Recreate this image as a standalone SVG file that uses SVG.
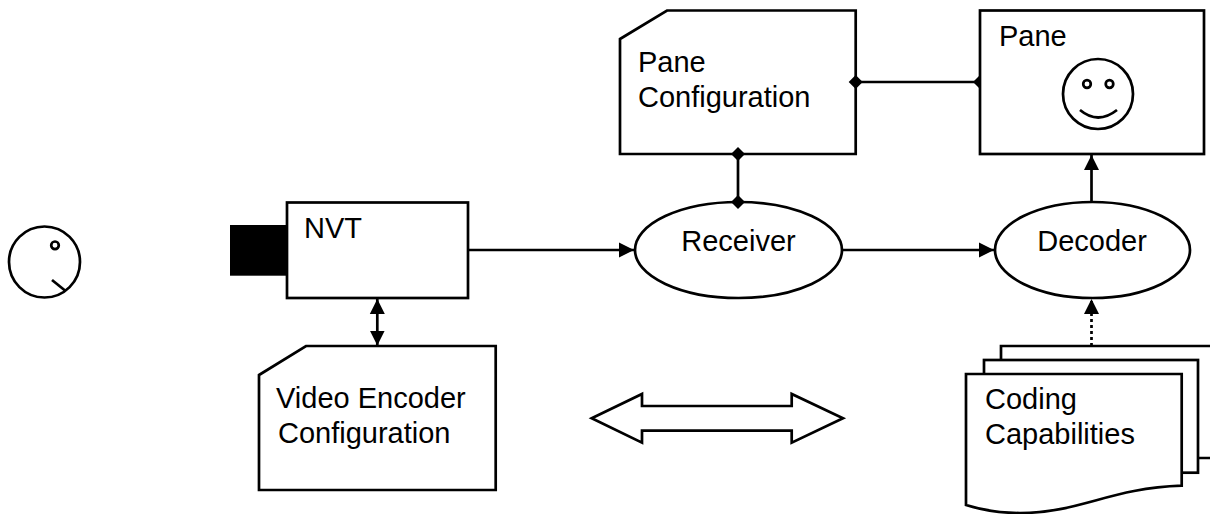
<svg xmlns="http://www.w3.org/2000/svg" width="1210" height="514" viewBox="0 0 1210 514">
<style>
.s{fill:#fff;stroke:#000;stroke-width:2.7}
.n{fill:none;stroke:#000;stroke-width:2.7}
.t{font-family:"Liberation Sans",Arial,sans-serif;font-size:29px;fill:#000}
.m{text-anchor:middle}
.l{fill:none;stroke:#000;stroke-width:2.7}
.d{stroke-dasharray:3 3}
</style>
<defs>
<marker id="arrow" markerUnits="userSpaceOnUse" markerWidth="16" markerHeight="16" refX="15" refY="8" orient="auto-start-reverse"><path d="M0 0.5L15 8L0 15.5Z" fill="#000"/></marker>
<marker id="dia" markerUnits="userSpaceOnUse" markerWidth="16" markerHeight="16" refX="8" refY="8" orient="auto"><path d="M1 8L8 1L15 8L8 15Z" fill="#000"/></marker>
</defs>
<rect width="1210" height="514" fill="#fff"/>
<g id="connectors">
<path class="l" d="M468 250H634" marker-end="url(#arrow)"/>
<path class="l" d="M842 250H994" marker-end="url(#arrow)"/>
<path class="l" d="M1091.5 202V155" marker-end="url(#arrow)"/>
<path class="l d" d="M1091.5 346V299" marker-end="url(#arrow)"/>
<path class="l" d="M377.3 299V345.5" marker-start="url(#arrow)" marker-end="url(#arrow)"/>
<path class="l" d="M738 154V202" marker-start="url(#dia)" marker-end="url(#dia)"/>
<path class="l" d="M855.7 82H980" marker-start="url(#dia)" marker-end="url(#dia)"/>
</g>
<g id="observer">
<circle class="n" cx="44.5" cy="262" r="35.5"/>
<circle class="n" cx="55" cy="245.3" r="3.8"/>
<path class="n" d="M52 280L65 290.5"/>
</g>
<g id="nvt">
<rect x="230" y="225" width="58" height="50.7" fill="#000"/>
<rect class="n" x="287" y="202.5" width="181" height="95.5"/>
<text class="t" x="304" y="238">NVT</text>
</g>
<g id="video-encoder-configuration">
<path class="s" d="M259 375L306 346H495.7V490H259Z"/>
<text class="t" x="276" y="408">Video Encoder</text>
<text class="t" x="278" y="443">Configuration</text>
</g>
<g id="pane-configuration">
<path class="n" d="M620 39L667 10.5H855.7V154H620Z"/>
<text class="t" x="638" y="72">Pane</text>
<text class="t" x="638" y="107">Configuration</text>
</g>
<g id="pane">
<rect class="s" x="980" y="10.5" width="224" height="143.5"/>
<text class="t" x="999" y="46">Pane</text>
<circle class="n" cx="1098" cy="94" r="35"/>
<circle class="n" cx="1087" cy="84" r="3.8"/>
<circle class="n" cx="1109.5" cy="84" r="3.8"/>
<path class="n" d="M1080 110Q1098 125 1117 110"/>
</g>
<g id="receiver">
<ellipse class="n" cx="738.5" cy="250" rx="103.5" ry="48"/>
<text class="t m" x="738.5" y="251">Receiver</text>
</g>
<g id="decoder">
<ellipse class="n" cx="1092.5" cy="250" rx="97.5" ry="48"/>
<text class="t m" x="1092" y="251">Decoder</text>
</g>
<g id="double-arrow">
<path class="s" d="M591.7 418.3L642 394V406H791.7V394L843 418.3L791.7 442.7V430.7H642V442.7Z"/>
</g>
<g id="coding-capabilities">
<path class="s" d="M1212 346H1001V458H1212"/>
<rect class="s" x="984" y="360" width="214" height="112.7"/>
<path class="s" d="M966 374H1181.7V485.7C1110 488 1080 513 1020 513C1000 513 985 511 966 505Z"/>
<text class="t" x="985" y="409">Coding</text>
<text class="t" x="985" y="444">Capabilities</text>
</g>
</svg>
